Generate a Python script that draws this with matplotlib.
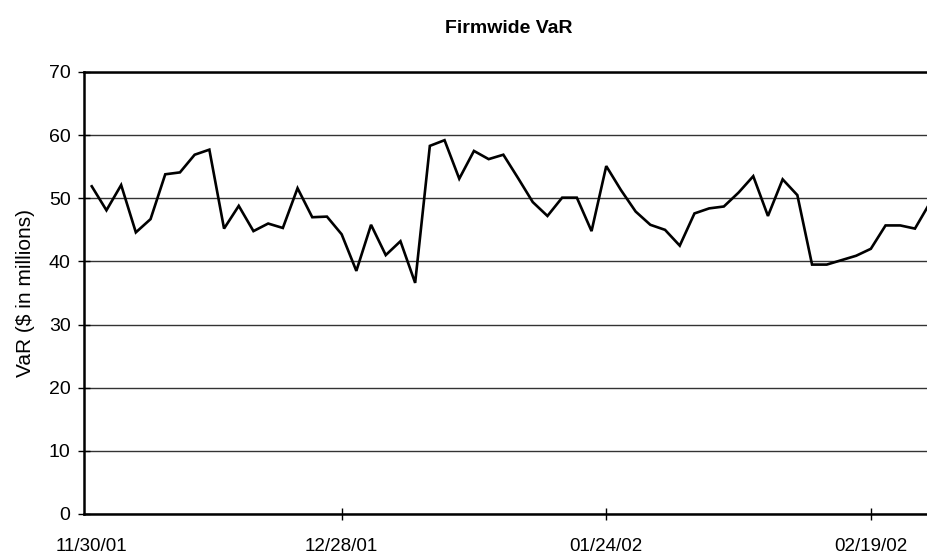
import numpy as np
import matplotlib
matplotlib.use("Agg")
import matplotlib.pyplot as plt

# daily firmwide VaR, $ millions
var_values = [
    51.9, 48.1, 52.1, 44.6, 46.7, 53.8, 54.1, 56.9, 57.7, 45.2,
    48.8, 44.8, 46.0, 45.3, 51.6, 47.0, 47.1, 44.3, 38.5, 45.8,
    41.0, 43.2, 36.6, 58.3, 59.2, 53.1, 57.5, 56.2, 56.9, 53.2,
    49.4, 47.2, 50.1, 50.1, 44.8, 55.1, 51.3, 47.9, 45.8, 45.0,
    42.5, 47.6, 48.4, 48.7, 50.9, 53.5, 47.2, 53.0, 50.5, 39.5,
    39.5, 40.2, 40.9, 42.0, 45.7, 45.7, 45.2, 49.2,
]
date_labels = ["11/30/01", "12/28/01", "01/24/02", "02/19/02"]
label_index = [0, 17, 35, 53]

plt.rcParams['font.family'] = ['Liberation Sans', 'DejaVu Sans']

W, H = 927, 555
fig = plt.figure(figsize=(W / 100, H / 100), dpi=100)

# plot area: x=-0.5 at px 84.4, step 14.7 px; y 0 at px 514, 70 at px 72
left_px, right_px = 84.4, 84.4 + 58 * 14.7
ax = fig.add_axes([left_px / W, (H - 514) / H, (right_px - left_px) / W, (514 - 72) / H])

x = np.arange(len(var_values))
ax.plot(x, var_values, color='black', lw=1.9, solid_joinstyle='miter')

ax.set_xlim(-0.5, len(var_values) - 0.5)
ax.set_ylim(0, 70)
ax.set_yticks(range(0, 71, 10))
ax.yaxis.grid(True, color='#333333', lw=1.0)
ax.set_axisbelow(True)

ax.set_xticks(label_index)
ax.set_xticklabels(date_labels)
ax.tick_params(axis='x', direction='inout', length=8.5, width=1.0, labelsize=13.5, pad=13)
ax.tick_params(axis='y', direction='inout', length=8, width=1.0, labelsize=14, pad=6)
ax.xaxis.get_major_ticks()[0].tick1line.set_visible(False)

for side in ['left', 'bottom', 'top']:
    ax.spines[side].set_linewidth(1.8)
ax.spines['right'].set_visible(False)

ax.set_ylabel("VaR ($ in millions)", fontsize=15, labelpad=10)
fig.text(509 / W, 1 - 33 / H, "Firmwide VaR", ha='center', va='baseline',
         fontsize=14, fontweight='bold')

fig.savefig("out.png", dpi=100)
